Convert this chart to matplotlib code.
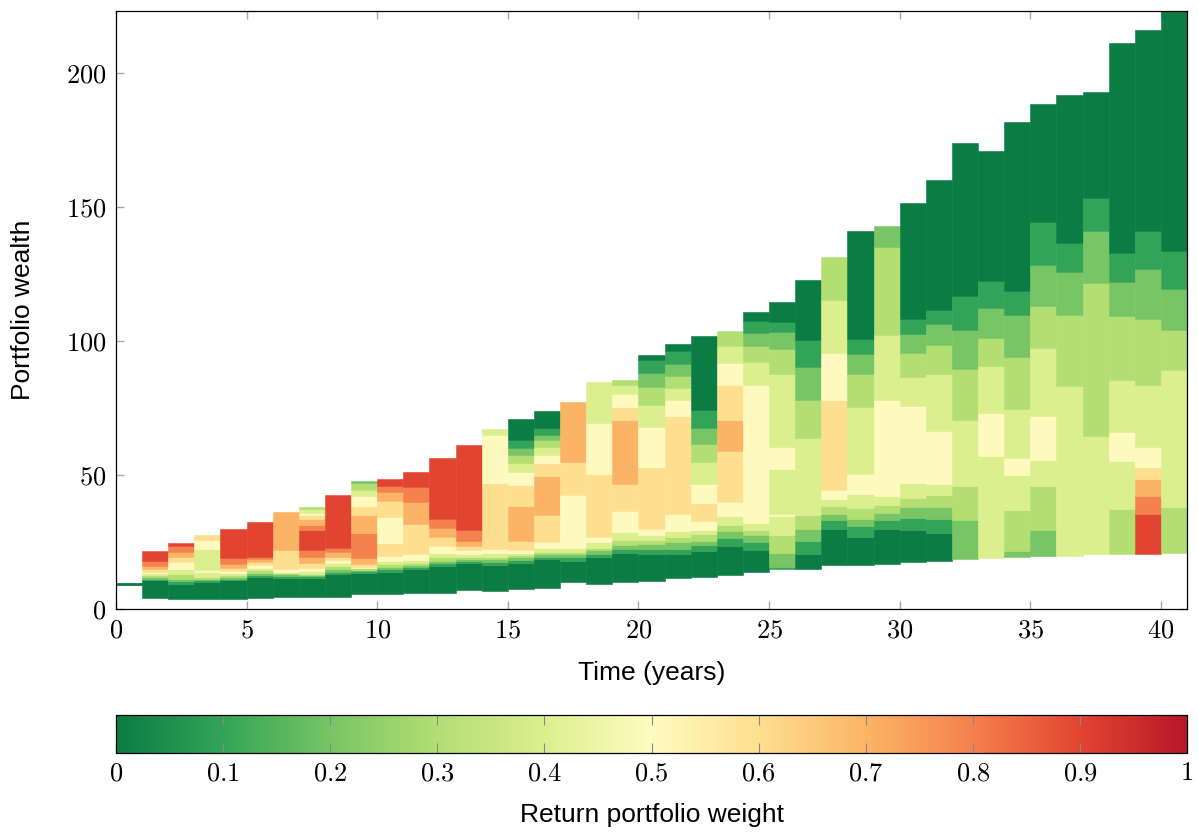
import matplotlib
matplotlib.use("Agg")
import matplotlib.pyplot as plt
import matplotlib.ticker as ticker
from matplotlib.colors import LinearSegmentedColormap, Normalize
from matplotlib.cm import ScalarMappable
import numpy as np

plt.rcParams["mathtext.fontset"] = "cm"
plt.rcParams["font.family"] = ["Liberation Sans", "DejaVu Sans"]

# wealth at t = 0 (single point, drawn as a short line)
initial_wealth = 9.5

years = list(range(1, 41))

# band edges (wealth, bottom to top) for each year
band_edges = [
    [4.1, 10.8, 11.3, 11.8, 12.6, 13.3, 13.9, 14.9, 16.2, 17.9, 21.6],
    [3.7, 9.3, 10.4, 11.3, 13.1, 14.9, 17.5, 19.4, 21.3, 23.5, 24.6],
    [3.8, 10.1, 10.7, 11.3, 12.1, 13.8, 14.6, 22.4, 25.7, 27.6],
    [3.9, 10.7, 11.3, 12.1, 12.8, 13.6, 14.3, 15.3, 16.8, 19.0, 29.9],
    [4.1, 12.1, 12.8, 13.6, 14.6, 15.3, 16.5, 17.5, 18.7, 19.4, 32.5],
    [4.5, 11.7, 12.3, 12.9, 13.4, 13.8, 14.9, 22.0, 36.2],
    [4.6, 11.7, 12.2, 12.7, 13.1, 14.3, 15.4, 17.0, 19.3, 22.0, 29.5, 31.3, 33.6, 35.1, 35.9, 37.3, 37.9],
    [4.5, 13.1, 13.8, 14.9, 16.0, 17.2, 18.3, 19.4, 21.3, 22.8, 42.5],
    [5.5, 13.5, 14.1, 14.6, 15.2, 15.8, 16.8, 19.0, 28.2, 35.1, 38.4, 42.2, 44.4, 47.1, 47.8],
    [5.6, 13.8, 14.8, 15.8, 16.7, 17.9, 19.8, 24.6, 34.3, 40.3, 43.7, 45.9, 48.5],
    [6.1, 14.8, 15.6, 16.4, 17.3, 18.3, 20.5, 31.7, 39.9, 45.5, 51.1],
    [6.1, 16.0, 17.2, 17.9, 19.4, 20.9, 23.5, 26.9, 30.2, 33.6, 56.3],
    [7.1, 17.0, 17.8, 18.5, 19.5, 20.5, 22.0, 23.5, 25.4, 29.5, 61.2],
    [6.7, 16.4, 17.5, 18.5, 19.5, 21.0, 22.4, 47.0, 64.9, 67.2],
    [7.5, 17.3, 18.3, 19.3, 20.1, 21.0, 22.0, 25.4, 38.4, 46.3, 51.1, 54.5, 57.5, 60.1, 63.1, 70.9],
    [7.8, 18.5, 19.5, 20.5, 21.3, 22.8, 25.0, 35.1, 49.6, 54.5, 57.5, 60.4, 63.1, 64.9, 67.5, 73.9],
    [10.1, 17.8, 19.3, 20.5, 21.3, 22.8, 42.5, 54.9, 77.2],
    [9.3, 19.4, 20.5, 22.0, 22.8, 25.0, 26.9, 50.4, 69.4, 84.7],
    [10.1, 20.9, 22.4, 23.9, 25.7, 28.7, 36.6, 46.6, 70.5, 75.4, 80.2, 83.6, 85.4],
    [10.4, 20.5, 22.4, 24.3, 25.7, 27.6, 29.9, 53.0, 67.9, 76.1, 82.8, 88.0, 92.9, 94.8],
    [11.6, 20.5, 22.4, 25.0, 26.9, 29.1, 35.4, 72.0, 78.0, 82.5, 86.9, 91.4, 96.3, 98.9],
    [11.9, 21.6, 23.9, 25.4, 28.0, 29.5, 32.8, 39.6, 46.6, 54.9, 61.6, 67.5, 74.3, 101.9],
    [12.7, 23.5, 26.5, 29.1, 31.3, 34.7, 39.9, 59.0, 70.5, 83.6, 91.8, 98.1, 103.7],
    [13.8, 22.0, 25.0, 27.6, 29.5, 32.1, 83.6, 92.2, 98.1, 103.0, 107.5, 110.8],
    [14.9, 15.7, 20.9, 27.6, 34.7, 35.4, 52.2, 60.4, 87.7, 97.0, 103.4, 107.1, 114.6],
    [14.9, 20.5, 25.4, 29.9, 35.1, 63.8, 78.0, 90.3, 100.4, 122.8],
    [16.4, 29.9, 33.2, 35.4, 38.4, 41.0, 44.4, 78.0, 95.5, 115.3, 131.3],
    [16.4, 26.9, 31.0, 33.6, 37.7, 42.9, 50.4, 75.4, 87.7, 95.1, 100.7, 141.0],
    [16.8, 29.9, 33.2, 35.8, 38.8, 42.2, 78.0, 102.2, 135.1, 142.9],
    [17.5, 29.5, 34.0, 38.1, 41.4, 47.0, 75.7, 86.6, 95.5, 102.6, 108.2, 151.5],
    [17.9, 28.4, 33.6, 38.1, 42.5, 46.6, 66.4, 87.7, 98.5, 106.3, 111.6, 160.1],
    [18.7, 33.2, 45.9, 70.5, 89.6, 104.1, 116.8, 173.9],
    [19.0, 57.1, 73.1, 90.7, 101.1, 112.3, 122.4, 170.9],
    [19.4, 21.6, 36.9, 50.0, 56.3, 74.6, 94.0, 109.7, 118.7, 181.7],
    [19.8, 29.5, 45.9, 55.6, 72.0, 97.4, 113.1, 128.4, 144.4, 188.4],
    [19.8, 83.2, 109.7, 125.7, 136.6, 191.8],
    [20.5, 64.6, 121.6, 141.0, 153.4, 192.9],
    [20.5, 37.3, 55.2, 66.0, 85.4, 109.3, 122.0, 132.8, 211.2],
    [20.5, 35.4, 42.2, 48.5, 53.0, 60.4, 83.6, 108.2, 126.9, 141.0, 216.0],
    [20.9, 38.1, 89.2, 104.1, 119.4, 133.6, 225.0],
]

# return portfolio weight of each band, in tenths
band_weights = [
    [0, 1, 2, 3, 4, 5, 6, 7, 8, 9],
    [0, 1, 2, 3, 4, 5, 6, 7, 8, 9],
    [0, 1, 2, 3, 4, 5, 4, 5, 6],
    [0, 1, 2, 3, 4, 5, 6, 7, 8, 9],
    [0, 1, 2, 3, 4, 5, 6, 7, 8, 9],
    [0, 1, 2, 3, 4, 5, 6, 7],
    [0, 1, 2, 3, 4, 5, 6, 7, 8, 9, 8, 7, 6, 5, 4, 3],
    [0, 1, 2, 3, 4, 5, 6, 7, 8, 9],
    [0, 1, 2, 3, 5, 6, 7, 8, 7, 6, 5, 4, 3, 2],
    [0, 1, 2, 3, 4, 5, 6, 5, 6, 7, 8, 9],
    [0, 1, 2, 3, 4, 5, 6, 7, 8, 9],
    [0, 1, 2, 3, 4, 5, 6, 7, 8, 9],
    [0, 1, 2, 3, 4, 5, 6, 7, 8, 9],
    [0, 1, 2, 3, 4, 5, 6, 5, 4],
    [0, 1, 2, 3, 4, 5, 6, 7, 6, 5, 4, 3, 2, 1, 0],
    [0, 1, 2, 3, 4, 5, 6, 7, 6, 5, 4, 3, 2, 1, 0],
    [0, 1, 2, 3, 4, 5, 6, 7],
    [0, 1, 2, 3, 4, 5, 6, 5, 4],
    [0, 1, 2, 3, 4, 5, 6, 7, 6, 5, 4, 3],
    [0, 1, 2, 3, 4, 5, 6, 5, 4, 3, 2, 1, 0],
    [0, 1, 2, 3, 4, 5, 6, 5, 4, 3, 2, 1, 0],
    [0, 1, 2, 3, 4, 5, 6, 5, 4, 3, 2, 1, 0],
    [0, 1, 2, 3, 4, 5, 6, 7, 6, 5, 4, 3],
    [0, 1, 2, 3, 4, 5, 4, 3, 2, 1, 0],
    [1, 2, 3, 4, 5, 4, 5, 4, 3, 2, 1, 0],
    [0, 1, 2, 3, 4, 3, 2, 1, 0],
    [0, 1, 2, 3, 4, 5, 6, 5, 4, 3],
    [0, 1, 2, 3, 4, 5, 4, 3, 2, 1, 0],
    [0, 1, 2, 3, 4, 5, 4, 3, 2],
    [0, 1, 2, 3, 4, 5, 4, 3, 2, 1, 0],
    [0, 1, 2, 3, 4, 5, 4, 3, 2, 1, 0],
    [2, 3, 4, 3, 2, 1, 0],
    [4, 5, 4, 3, 2, 1, 0],
    [2, 3, 4, 5, 4, 3, 2, 1, 0],
    [2, 3, 4, 5, 4, 3, 2, 1, 0],
    [4, 3, 2, 1, 0],
    [4, 3, 2, 1, 0],
    [3, 4, 5, 4, 3, 2, 1, 0],
    [9, 8, 7, 6, 5, 4, 3, 2, 1, 0],
    [3, 4, 3, 2, 1, 0],
]

cmap = LinearSegmentedColormap.from_list("weights", [
    "#0b7c43", "#34a557", "#78c565", "#b3de72", "#dcef8e", "#fefbc0",
    "#fedf8f", "#fbb567", "#f5814d", "#e24631", "#b8172a",
])

fig = plt.figure(figsize=(11.98, 8.32), dpi=100)
ax = fig.add_axes([116 / 1198, 1 - 609 / 832, 1071 / 1198, 598 / 832])
cax = fig.add_axes([116 / 1198, 1 - 753 / 832, 1071 / 1198, 38 / 832])

ax.plot([0, 1], [initial_wealth, initial_wealth], color=cmap(0.0), lw=2, zorder=2)

for t, edges, weights in zip(years, band_edges, band_weights):
    edges = np.asarray(edges)
    colors = [cmap(w / 10) for w in weights]
    ax.bar(np.full(len(weights), t), np.diff(edges), bottom=edges[:-1], width=1.0,
           align="edge", color=colors, edgecolor=colors, linewidth=0.4, zorder=2)

math_fmt = ticker.FuncFormatter(lambda v, p: f"${v:.10g}$")

ax.set_xlim(0, 41)
ax.set_ylim(0, 223)
ax.set_xticks(range(0, 41, 5))
ax.set_yticks(range(0, 201, 50))
ax.xaxis.set_major_formatter(math_fmt)
ax.yaxis.set_major_formatter(math_fmt)
ax.tick_params(direction="in", length=6, width=1, color="#a8a8a8", labelsize=19,
               top=True, right=True, pad=7)
for s in ax.spines.values():
    s.set_linewidth(0.9)
ax.set_xlabel("Time (years)", fontsize=19, labelpad=13)
ax.set_ylabel("Portfolio wealth", fontsize=19, labelpad=22)

sm = ScalarMappable(norm=Normalize(0, 1), cmap=cmap)
cb = fig.colorbar(sm, cax=cax, orientation="horizontal")
cb.set_ticks(np.round(np.arange(0, 1.01, 0.1), 1))
cb.ax.xaxis.set_major_formatter(math_fmt)
cb.ax.tick_params(direction="in", length=7, width=0.8, color="#888888", labelsize=19,
                  top=True, pad=6)
cb.outline.set_linewidth(0.9)
cb.set_label("Return portfolio weight", fontsize=19, labelpad=13)

fig.savefig("out.png", dpi=100)
